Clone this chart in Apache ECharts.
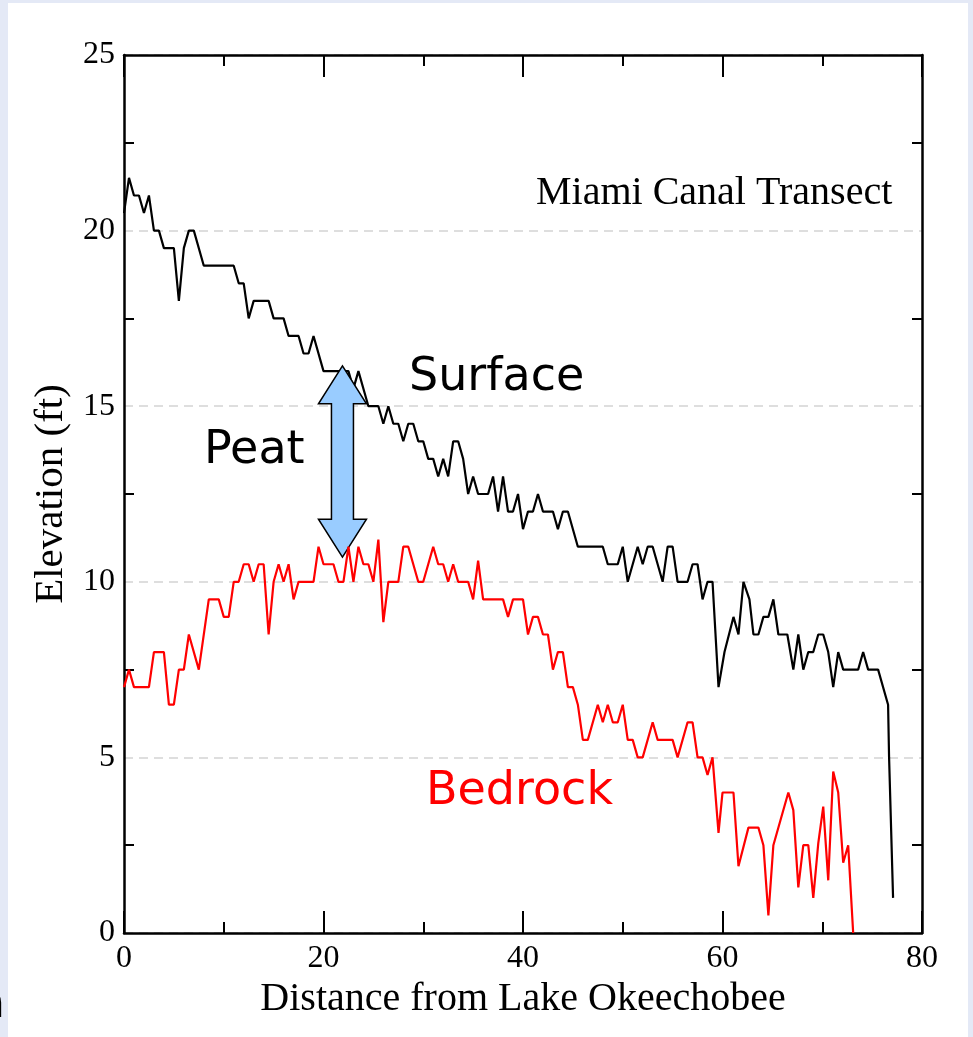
<!DOCTYPE html>
<html>
<head>
<meta charset="utf-8">
<script src="https://cdn.jsdelivr.net/npm/echarts@6/dist/echarts.min.js"></script>
<style>
  html, body { margin: 0; padding: 0; background: #e4e9f6; }
  #panel { position: absolute; left: 8px; top: 3px; width: 960px; height: 1034px; background: #fff; }
  #main { position: absolute; left: 0; top: 0; width: 973px; height: 1037px; }
</style>
</head>
<body>
<div id="panel"></div>
<div id="main"></div>
<script>
  // surface / bedrock profiles along the canal (distance, elevation in ft)
  var surfaceDist = [0,0.5,1,1.5,2,2.5,3,3.5,4,5,5.5,6,6.5,7,8,11,11.5,12,12.5,13,14.5,15,16,16.5,17.5,18,18.5,19,20,22.5,23,23.5,24.5,25.5,26,26.5,27,27.5,28,28.5,29,29.5,30,30.5,31,31.5,32,32.5,33,33.5,34,34.5,35,35.5,36.5,37,37.5,38,38.5,39,39.5,40,40.5,41,41.5,42,43,43.5,44,44.5,45.5,48,48.5,49.5,50,50.5,51.5,52,52.5,53,54,54.5,55,55.5,56.5,57,57.5,58,58.5,59,59.6,60.2,61.1,61.6,62.1,62.7,63.1,63.6,64.1,64.6,65.1,65.6,66.5,67.1,67.6,68.1,68.6,69.1,69.6,70.1,70.6,71.1,71.6,72.1,73.6,74.1,74.6,75.6,76.6,76.7,77.1];
  var surfaceElev = [20.5,21.5,21,21,20.5,21,20,20,19.5,19.5,18,19.5,20,20,19,19,18.5,18.5,17.5,18,18,17.5,17.5,17,17,16.5,16.5,17,16,16,15.5,16,15,15,14.5,15,14.5,14.5,14,14.5,14.5,14,14,13.5,13.5,13,13.5,13,14,14,13.5,12.5,13,12.5,12.5,13,12,13,12,12,12.5,11.5,12,12,12.5,12,12,11.5,12,12,11,11,10.5,10.5,11,10,11,10.5,11,11,10,11,11,10,10,10.5,10.5,9.5,10,10,7,8,9,8.5,10,9.5,8.5,8.5,9,9,9.5,8.5,8.5,7.5,8.5,7.5,8,8,8.5,8.5,8,7,8,7.5,7.5,8,7.5,7.5,6.5,5,1];

  var bedrockDist = [0,0.5,1,2.5,3,4,4.5,5,5.5,6,6.5,7.5,8.5,9.5,10,10.5,11,11.5,12,12.5,13,13.5,14,14.5,15,15.5,16,16.5,17,17.5,19,19.5,20,21,21.5,22,22.5,23,23.5,24,24.5,25,25.5,26,26.5,27.5,28,28.5,29.5,30,31,31.5,32,32.5,33,33.5,34.5,35,35.5,36,38,38.5,39,40,40.5,41,41.5,42,42.5,43,43.5,44,44.5,45,45.5,46,46.5,47.5,48,48.5,49,49.5,50,50.5,51,51.5,52,53,53.5,55,55.5,56.5,57,57.5,58,58.5,59,59.6,60,61.1,61.6,62.6,63.6,64.1,64.6,65.1,66.6,67.1,67.6,68.1,68.6,69.1,69.6,70.1,70.6,71.1,71.6,72.1,72.6,73.1];
  var bedrockElev = [7,7.5,7,7,8,8,6.5,6.5,7.5,7.5,8.5,7.5,9.5,9.5,9,9,10,10,10.5,10.5,10,10.5,10.5,8.5,10,10.5,10,10.5,9.5,10,10,11,10.5,10.5,10,10,11,10,11,10.5,10.5,10,11.2,8.85,10,10,11,11,10,10,11,10.5,10.5,10,10.5,10,10,9.5,10.6,9.5,9.5,9,9.5,9.5,8.5,9,9,8.5,8.5,7.5,8,8,7,7,6.5,5.5,5.5,6.5,6,6.5,6,6,6.5,5.5,5.5,5,5,6,5.5,5.5,5,6,6,5,5,4.5,5,2.85,4,4,1.9,3,3,2.5,0.5,2.5,4,3.5,1.3,2.5,2.5,1,2.55,3.6,1.5,4.6,4,2,2.5,0];

  // peat thickness arrow: [distance, bottom, top]
  var peatArrow = [[21.9, 10.7, 16.15]];

  var xTicks = [0, 20, 40, 60, 80];
  var yTicks = [0, 5, 10, 15, 20, 25];

  function zip(a, b) {
    var out = [];
    for (var i = 0; i < a.length; i++) out.push([a[i], b[i]]);
    return out;
  }

  var serif = '"Liberation Serif", "Times New Roman", serif';
  var sans = '"DejaVu Sans", Verdana, sans-serif';

  var myChart = echarts.init(document.getElementById('main'));

  var xBase = {
    min: xTicks[0], max: xTicks[xTicks.length - 1], interval: 20,
    axisLine: { onZero: false, lineStyle: { color: '#000', width: 2.5 } },
    axisTick: { inside: true, length: 22, lineStyle: { color: '#000', width: 2 } },
    minorTick: { show: true, splitNumber: 2, length: 11, lineStyle: { color: '#000', width: 2 } },
    splitLine: { show: false }
  };
  var yBase = {
    min: yTicks[0], max: yTicks[yTicks.length - 1], interval: 5,
    axisLine: { onZero: false, lineStyle: { color: '#000', width: 2.5 } },
    axisTick: { show: false, inside: true },
    minorTick: { show: true, splitNumber: 2, length: 10, lineStyle: { color: '#000', width: 2 } },
    splitLine: { show: true, lineStyle: { color: '#dedede', width: 2, type: [9, 6] } }
  };

  var option = {
    animation: false,
    backgroundColor: 'transparent',
    grid: { left: 124, right: 51, top: 55, bottom: 104 },
    xAxis: [
      Object.assign({}, xBase, {
        type: 'value', position: 'bottom',
        name: 'Distance from Lake Okeechobee', nameLocation: 'middle', nameGap: 44,
        nameTextStyle: { fontFamily: serif, fontSize: 40, color: '#000' },
        axisLabel: { margin: 10, fontFamily: serif, fontSize: 32, color: '#000' }
      }),
      Object.assign({}, xBase, { type: 'value', position: 'top', axisLabel: { show: false } })
    ],
    yAxis: [
      Object.assign({}, yBase, {
        type: 'value', position: 'left',
        name: 'Elevation (ft)', nameLocation: 'middle', nameGap: 48,
        nameTextStyle: { fontFamily: serif, fontSize: 41, color: '#000' },
        axisLabel: { margin: 9, fontFamily: serif, fontSize: 32, color: '#000' }
      }),
      Object.assign({}, yBase, { type: 'value', position: 'right', axisLabel: { show: false },
        splitLine: { show: false } })
    ],
    series: [
      {
        name: 'Surface', type: 'line', z: 2,
        data: zip(surfaceDist, surfaceElev),
        showSymbol: false, symbol: 'none',
        lineStyle: { color: '#000', width: 2.2 }
      },
      {
        name: 'Peat', type: 'custom', z: 3,
        data: peatArrow,
        encode: { x: 0, y: [1, 2] },
        clip: false,
        renderItem: function (params, api) {
          var top = api.coord([api.value(0), api.value(2)]);
          var bot = api.coord([api.value(0), api.value(1)]);
          var cx = top[0], hw = 24, sw = 11, hl = 38;
          return {
            type: 'polygon',
            shape: { points: [
              [cx, top[1]], [cx + hw, top[1] + hl], [cx + sw, top[1] + hl],
              [cx + sw, bot[1] - hl], [cx + hw, bot[1] - hl], [cx, bot[1]],
              [cx - hw, bot[1] - hl], [cx - sw, bot[1] - hl],
              [cx - sw, top[1] + hl], [cx - hw, top[1] + hl]
            ] },
            style: { fill: '#99ccff', stroke: '#000', lineWidth: 1.5 }
          };
        }
      },
      {
        name: 'Bedrock', type: 'line', z: 4,
        data: zip(bedrockDist, bedrockElev),
        showSymbol: false, symbol: 'none',
        lineStyle: { color: '#ff0000', width: 2.2 }
      }
    ],
    graphic: [
      { type: 'text', x: 536, y: 193, style: { text: 'Miami Canal Transect', font: '40px ' + serif, fill: '#000', verticalAlign: 'middle' } },
      { type: 'text', x: 409, y: 378, style: { text: 'Surface', font: '46px ' + sans, fill: '#000', verticalAlign: 'middle' } },
      { type: 'text', x: 204, y: 451, style: { text: 'Peat', font: '46px ' + sans, fill: '#000', verticalAlign: 'middle' } },
      { type: 'text', x: 426, y: 792, style: { text: 'Bedrock', font: '46px ' + sans, fill: '#ff0000', verticalAlign: 'middle' } },
      // clipped letter from the slide behind the figure
      { type: 'text', x: -23, y: 1006, style: { text: 'n', font: '44px ' + sans, fill: '#000', verticalAlign: 'middle' } }
    ]
  };

  myChart.setOption(option);
</script>
</body>
</html>
